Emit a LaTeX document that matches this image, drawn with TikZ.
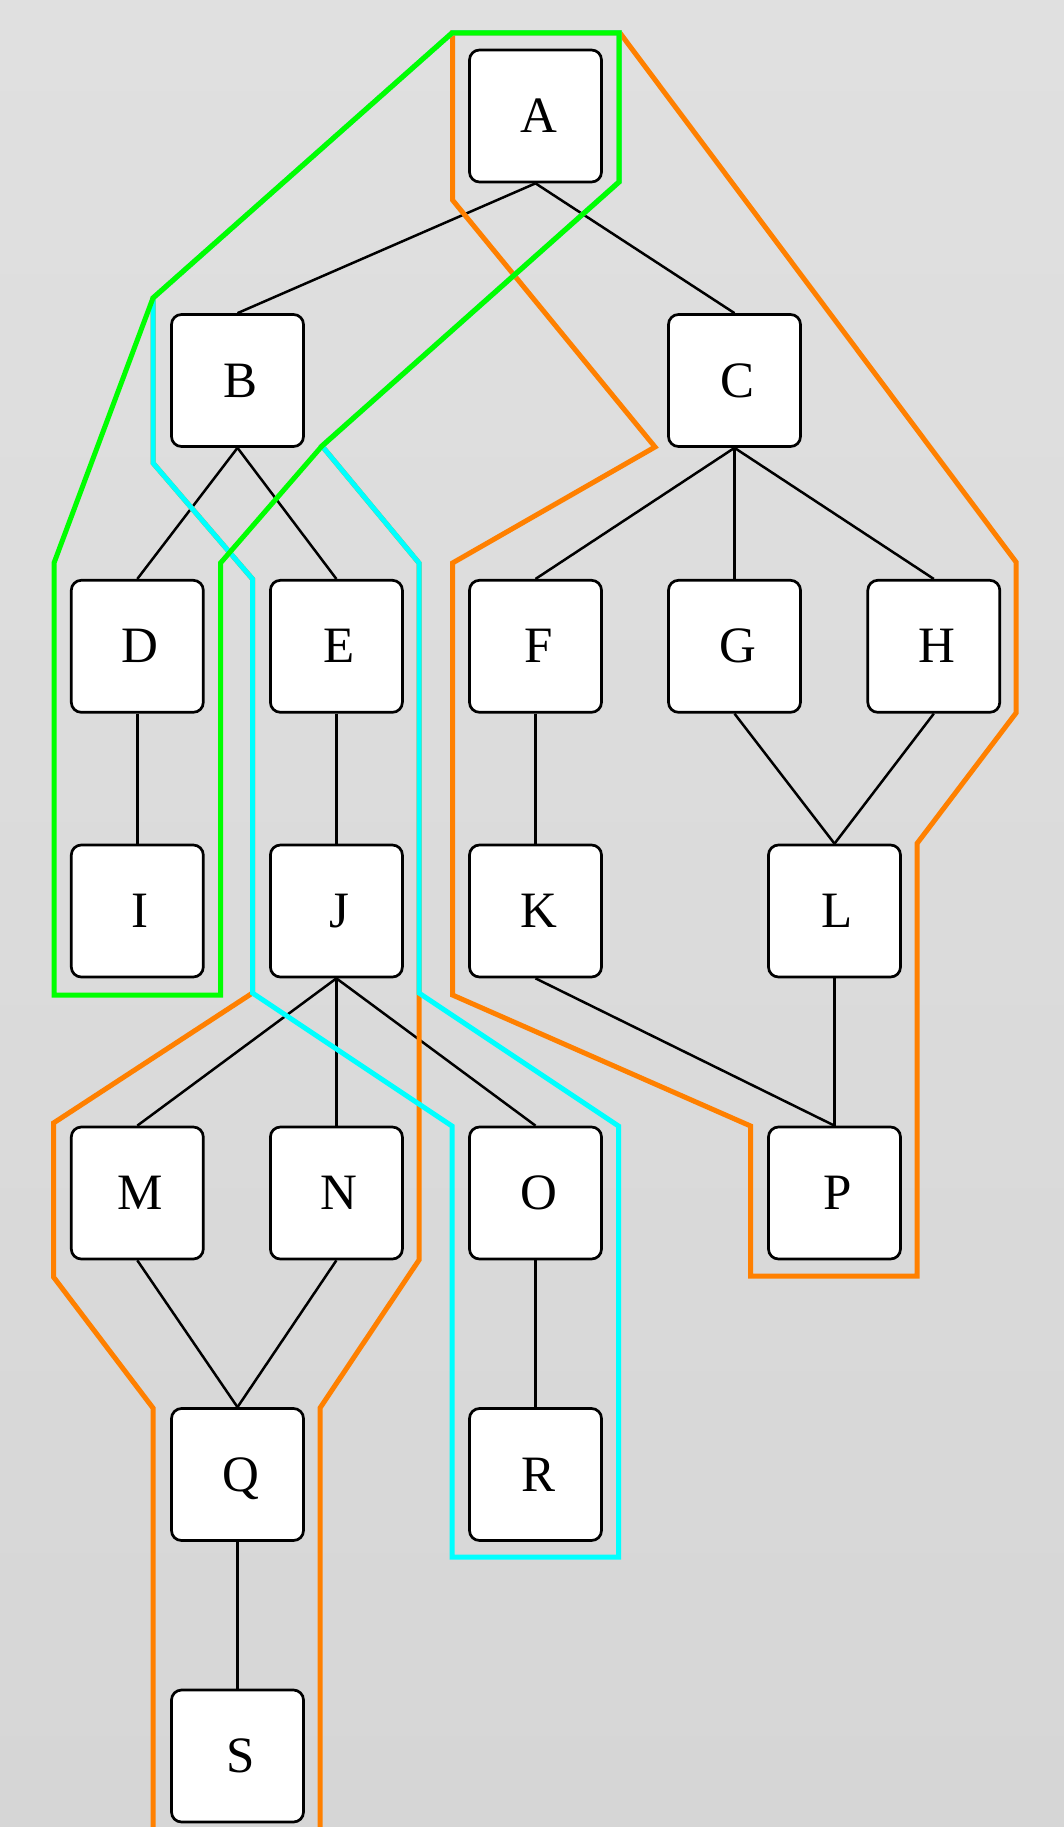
\documentclass[tikz,border=0pt]{standalone}
\usepackage{fontspec}
\setmainfont{Liberation Serif}
\definecolor{bgtop}{RGB}{224,224,224}
\definecolor{bgbot}{RGB}{214,214,214}
\definecolor{hgreen}{RGB}{0,255,0}
\definecolor{hcyan}{RGB}{0,255,255}
\definecolor{horange}{RGB}{255,128,0}
\tikzset{
  box/.style={draw=black, line width=2.7pt, fill=white, rounded corners=10pt,
    minimum width=132pt, minimum height=132pt, inner sep=0pt,
    font=\fontsize{51}{60}\selectfont, text height=33pt, text depth=0pt,
    execute at begin node={\kern6pt}},
  link/.style={draw=black, line width=2.5pt},
  hull/.style={line width=5pt, line join=miter}
}
\begin{document}
\begin{tikzpicture}[x=1pt,y=-1pt]
\clip (0,0) rectangle (1064,1827);
\fill[top color=bgtop,bottom color=bgbot] (0,0) rectangle (1064,1827);
% nodes
\node[box] (A) at (535.5,116) {A};
\node[box] (B) at (237.5,380.5) {B};
\node[box] (C) at (734.5,380.5) {C};
\node[box] (D) at (137.3,646.3) {D};
\node[box] (E) at (336.4,646.3) {E};
\node[box] (F) at (535.5,646.3) {F};
\node[box] (G) at (734.5,646.3) {G};
\node[box] (H) at (933.8,646.3) {H};
\node[box] (I) at (137.3,911) {I};
\node[box] (J) at (336.4,911) {J};
\node[box] (K) at (535.5,911) {K};
\node[box] (L) at (834.5,911) {L};
\node[box] (M) at (137.3,1193) {M};
\node[box] (N) at (336.4,1193) {N};
\node[box] (O) at (535.5,1193) {O};
\node[box] (P) at (834.5,1193) {P};
\node[box] (Q) at (237.5,1474.5) {Q};
\node[box] (R) at (535.5,1474.5) {R};
\node[box] (S) at (237.5,1756) {S};
% edges
\foreach \u/\v in {A/B,A/C,B/D,B/E,C/F,C/G,C/H,D/I,E/J,F/K,G/L,H/L,J/M,J/N,J/O,K/P,L/P,M/Q,N/Q,O/R,Q/S}
  \draw[link] (\u.south) -- (\v.north);
% hulls
\draw[hull, draw=horange] (452,33) -- (619,33) -- (619,182) -- (322,446) -- (419,563)
  -- (419,1260) -- (320,1408) -- (320,1850) -- (153,1850) -- (153,1408) -- (53.5,1277)
  -- (53.5,1123) -- (252.5,993) -- (252.5,579) -- (153,463) -- (153,298) -- cycle;
\draw[hull, draw=horange] (452.5,33) -- (620,33) -- (1016,562) -- (1016,713) -- (917,843.5)
  -- (917,1276) -- (750.6,1276) -- (750.6,1126) -- (452.5,995) -- (452.5,563)
  -- (655,447) -- (452.5,200) -- cycle;
\draw[hull, draw=hcyan] (452,33) -- (619,33) -- (619,182) -- (322,446) -- (419,563)
  -- (419,993) -- (618.5,1126) -- (618.5,1557) -- (452,1557) -- (452,1126)
  -- (252.5,993) -- (252.5,579) -- (153,463) -- (153,298) -- cycle;
\draw[hull, draw=hgreen] (452,33) -- (619,33) -- (619,182) -- (322,446) -- (220.5,563)
  -- (220.5,995) -- (54,995) -- (54,563) -- (153,298) -- cycle;
\end{tikzpicture}
\end{document}
